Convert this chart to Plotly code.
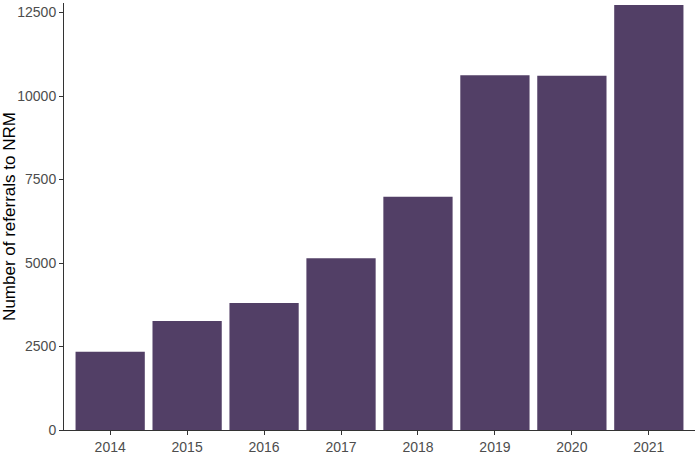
import plotly.graph_objects as go

years = ["2014", "2015", "2016", "2017", "2018", "2019", "2020", "2021"]
referrals = [2340, 3266, 3805, 5142, 6985, 10627, 10608, 12727]
y_ticks = [0, 2500, 5000, 7500, 10000, 12500]

BAR_COLOR = "#523f66"
FONT = "Liberation Sans, Arial"

fig = go.Figure()

fig.add_trace(go.Bar(
    x=years,
    y=referrals,
    width=0.9,
    marker=dict(color=BAR_COLOR, line=dict(width=0)),
    showlegend=False,
))

fig.update_xaxes(
    type="category",
    range=[-0.6, len(years) - 0.4],
    showline=True, linecolor="#333333", linewidth=1,
    ticks="outside", ticklen=4, tickcolor="#333333",
    tickfont=dict(family=FONT, size=14, color="#4d4d4d"),
    showgrid=False, zeroline=False, automargin=False,
)
fig.update_yaxes(
    range=[0, max(referrals) + 60],
    tickvals=y_ticks,
    ticktext=[str(v) for v in y_ticks],
    showline=True, linecolor="#333333", linewidth=1,
    ticks="outside", ticklen=4, tickcolor="#333333",
    tickfont=dict(family=FONT, size=14, color="#4d4d4d"),
    title=dict(text="Number of referrals to NRM",
               font=dict(family=FONT, size=17, color="black"),
               standoff=6),
    showgrid=False, zeroline=False, automargin=False,
)

fig.update_layout(
    width=700, height=466,
    margin=dict(l=64, r=5, t=3, b=36),
    plot_bgcolor="white", paper_bgcolor="white",
    bargap=0.1,
)

# page has a default 8px body margin, drop it so the plot sits at 0,0
fig.write_html("out.html", config={"displayModeBar": False},
               post_script="document.body.style.margin='0';")
